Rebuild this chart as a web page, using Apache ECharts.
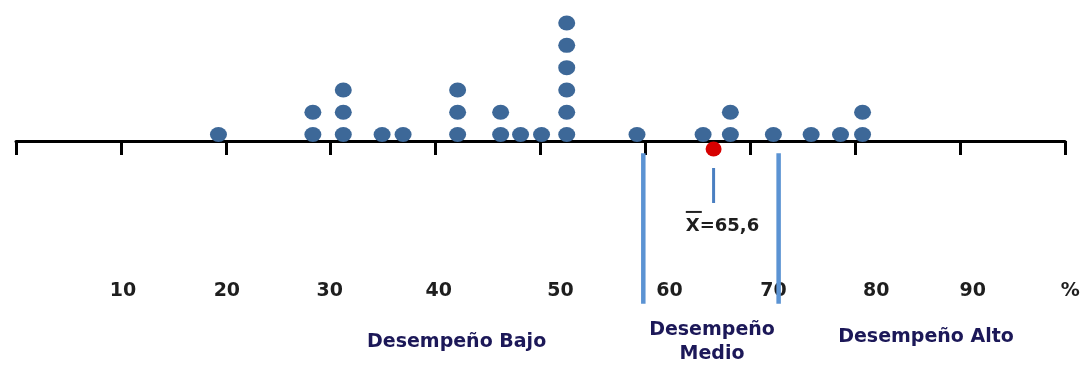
<!DOCTYPE html>
<html><head><meta charset="utf-8">
<script src="https://cdn.jsdelivr.net/npm/echarts/dist/echarts.min.js"></script>
<style>html,body{margin:0;padding:0;background:#fff}#c{width:1084px;height:367px}</style>
</head><body><div id="c"></div>
<script>
// Dot plot data: position of each stack (%) and number of students in it
const stackX = [19.3, 28.3, 31.2, 34.9, 36.9, 42.1, 46.2, 48.1, 50.1, 52.5, 59.2, 65.5, 68.1, 72.2, 75.8, 78.6, 80.7];
const stackCount = [1, 2, 3, 1, 1, 3, 2, 1, 1, 6, 1, 1, 2, 1, 1, 1, 2];
const meanValue = 65.6;
const meanMarkX = 66.5;
const cutPoints = [59.8, 72.7];
const tickLabels = ['10', '20', '30', '40', '50', '60', '70', '80', '90', '%'];
const tickLabelX = [10.2, 20.1, 29.9, 40.3, 51.9, 62.3, 72.2, 82.0, 91.2, 100.5];
const bandNames = ['Desempeño Bajo', 'Desempeño\nMedio', 'Desempeño Alto'];
const bandLabelX = [42.0, 66.35, 86.75];

const FONT = 'DejaVu Sans';
const dots = [];
stackX.forEach((x, i) => { for (let k = 1; k <= stackCount[i]; k++) dots.push([x, k - 0.71]); });

const chart = echarts.init(document.getElementById('c'), null, {renderer: 'canvas'});
chart.setOption({
  animation: false,
  grid: {left: 16, right: 19, top: 0, bottom: 0, containLabel: false, outerBoundsMode: 'none'},
  xAxis: [
    {type: 'value', min: 0, max: 100, interval: 10, position: 'bottom',
     axisLine: {show: true, onZero: true, lineStyle: {color: '#000', width: 3}},
     axisTick: {show: true, length: 14, lineStyle: {color: '#000', width: 3}},
     axisLabel: {show: false}, splitLine: {show: false}},
    {type: 'value', min: 0, max: 100, interval: 10, position: 'top',
     axisLine: {show: false, onZero: true},
     axisTick: {show: true, length: 13, lineStyle: {color: '#000', width: 3}},
     axisLabel: {show: false}, splitLine: {show: false}}
  ],
  yAxis: {type: 'value', min: -10.135, max: 6.323, show: false, splitLine: {show: false}},
  series: [
    {type: 'scatter', data: dots, symbol: 'circle', symbolSize: [17, 15],
     itemStyle: {color: '#3d6898', opacity: 1}, z: 5},
    // cut point lines
    ...cutPoints.map(c => ({type: 'line', data: [[c, -0.55], [c, -7.3]], symbol: 'none',
      lineStyle: {color: '#5b93d3', width: 4.5}, z: 3})),
    // mean marker
    {type: 'scatter', data: [[meanMarkX, -0.36]], symbol: 'circle', symbolSize: [16, 15],
     itemStyle: {color: '#d60000', opacity: 1}, z: 6},
    {type: 'line', data: [[meanMarkX, -1.21], [meanMarkX, -2.78]], symbol: 'none',
     lineStyle: {color: '#4a7fc1', width: 3}, z: 3},
    {type: 'scatter', data: [[meanMarkX + 0.85, -3.63]], symbolSize: 0,
     itemStyle: {opacity: 1},
     label: {show: true, position: 'inside',
       formatter: '{b| }\n{t|X=' + String(meanValue).replace('.', ',') + '}',
       rich: {
         b: {width: 16, height: 2, lineHeight: 8, backgroundColor: '#222', align: 'left'},
         t: {fontSize: 18, fontWeight: 'bold', fontFamily: FONT, color: '#1e1e1e', lineHeight: 20}
       }}},
    // tick labels
    {type: 'scatter', symbolSize: 0, clip: false, itemStyle: {opacity: 1},
     data: tickLabels.map((t, i) => ({value: [tickLabelX[i], -6.73], name: t})),
     label: {show: true, position: 'inside', formatter: '{b}', fontSize: 19, fontWeight: 'bold',
       fontFamily: FONT, color: '#1e1e1e'}},
    // performance bands
    {type: 'scatter', symbolSize: 0, itemStyle: {opacity: 1},
     data: bandNames.map((t, i) => ({value: [bandLabelX[i], i === 2 ? -8.79 : -9.01], name: t})),
     label: {show: true, position: 'inside', formatter: '{b}', fontSize: 19, fontWeight: 'bold',
       fontFamily: FONT, color: '#1c1858', lineHeight: 24, align: 'center'}}
  ]
});
</script></body></html>
